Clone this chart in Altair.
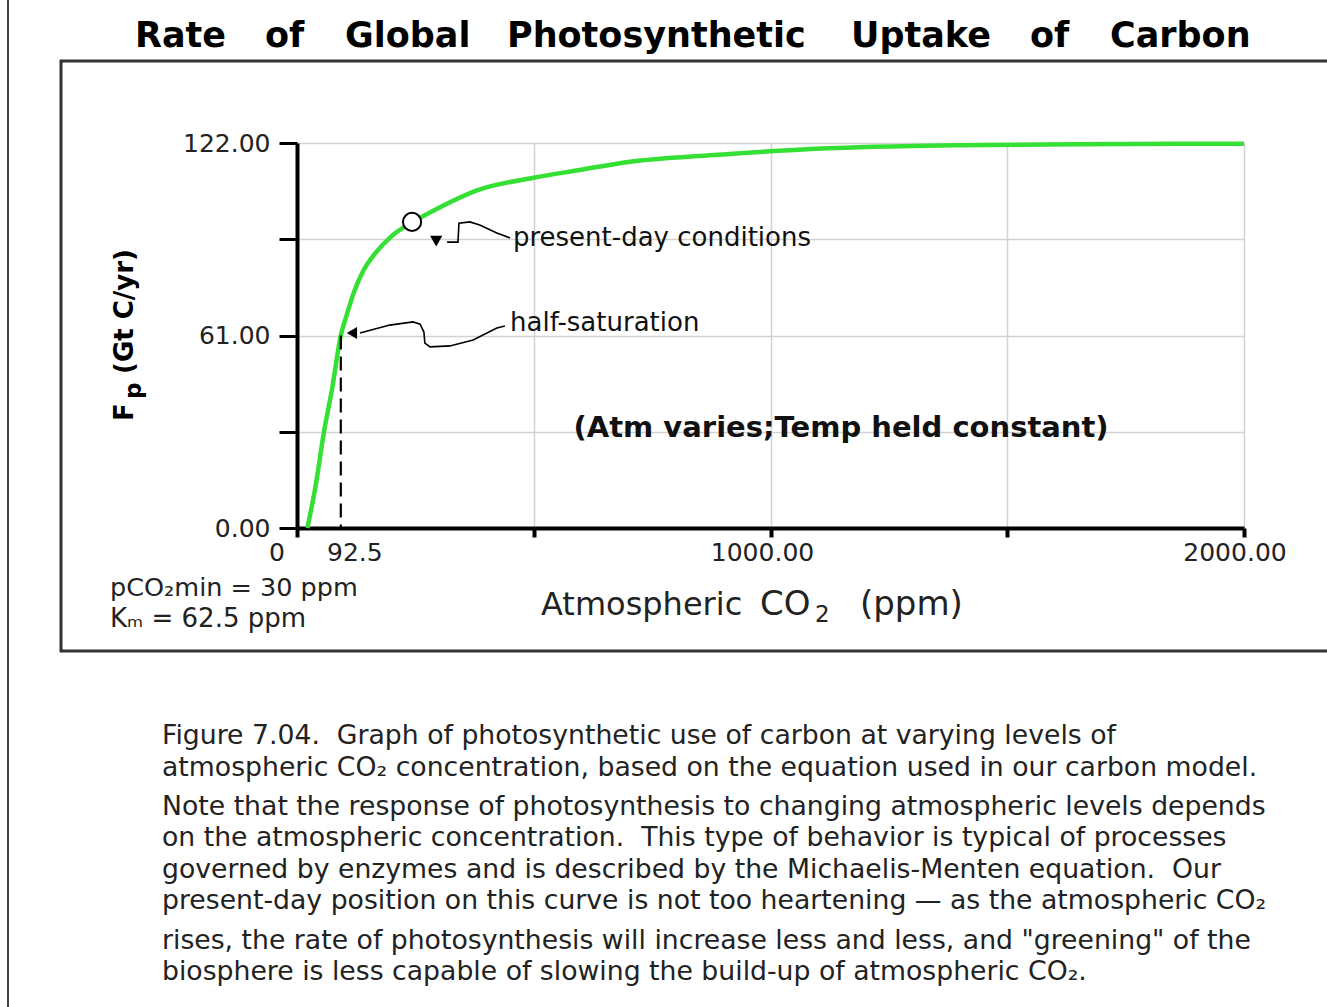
import altair as alt
import pandas as pd

# ---------------- data ----------------
co2_ppm = [22, 40, 57, 74, 92.5, 105, 121, 140, 165, 200, 245, 300, 380, 500,
           600, 700, 880, 1050, 1200, 1400, 1650, 2000]
fp_gtc = [0, 14, 30.5, 44, 61, 67.5, 75, 81.5, 87, 92.5, 97, 101.5, 107, 111,
          113.5, 116, 118.2, 119.8, 120.7, 121.3, 121.6, 121.8]

present_day = {"co2": 243, "fp": 97}
half_sat = {"co2": 92.5, "fp": 61}

present_conn_x = [317, 340, 342, 365, 386, 422, 450]
present_conn_y = [90.6, 90.6, 96.6, 97.0, 96.0, 93.5, 91.9]
present_arrow = {"co2": 294, "fp": 90.9}
present_label = {"co2": 456, "fp": 91.9, "text": "present-day conditions"}

half_conn_x = [133, 196, 245, 260, 268, 270, 281, 323, 372, 422, 439]
half_conn_y = [61.8, 64.3, 65.3, 64.6, 62.1, 58.6, 57.4, 57.7, 59.6, 63.4, 64.0]
half_arrow = {"co2": 116, "fp": 61.8}
half_label = {"co2": 450, "fp": 65, "text": "half-saturation"}

note_label = {"co2": 1149, "fp": 31.7, "text": "(Atm varies;Temp held constant)"}

y_ticks = [0, 30.5, 61, 91.5, 122]
x_ticks = [0, 500, 1000, 1500, 2000]
x_label_values = [0, 92.5, 1000, 2000]
x_label_texts = ["0", "92.5", "1000.00", "2000.00"]

title_words = ["Rate", "of", "Global", "Photosynthetic", "Uptake", "of", "Carbon"]
caption_lines = [
    "Figure 7.04.\u00a0 Graph of photosynthetic use of carbon at varying levels of",
    "atmospheric CO\u2082 concentration, based on the equation used in our carbon model.",
    "Note that the response of photosynthesis to changing atmospheric levels depends",
    "on the atmospheric concentration.\u00a0 This type of behavior is typical of processes",
    "governed by enzymes and is described by the Michaelis-Menten equation.\u00a0 Our",
    "present-day position on this curve is not too heartening \u2014 as the atmospheric CO\u2082",
    "rises, the rate of photosynthesis will increase less and less, and \"greening\" of the",
    "biosphere is less capable of slowing the build-up of atmospheric CO\u2082.",
]

# ---------------- layout (pixels) ----------------
W, H = 947, 385
PL, PT = 297, 143
PR = 1327 - PL - W
PB = 1007 - PT - H
title_x = [135, 265, 345, 507, 851, 1030, 1110]
caption_y = [736, 768, 807, 838, 870, 901, 941, 972]
x_label_dx = [-20, 14, -8, -9]

FONT = "DejaVu Sans"
XS = alt.Scale(domain=[0, 2000], nice=False, zero=False)
YS = alt.Scale(domain=[0, 122], nice=False, zero=True)

one = pd.DataFrame({"k": [0]})

Y_AXIS = alt.Axis(
    values=y_ticks, title=None,
    labelExpr="datum.value == 30.5 || datum.value == 91.5 ? '' : format(datum.value, '.2f')",
    tickSize=18, tickWidth=3, tickColor="black", domainColor="black",
    domainWidth=4, grid=True, gridColor="#d2d2d2", gridWidth=1.5,
    labelFont=FONT, labelFontSize=25, labelColor="#222222", labelPadding=9,
)
X_AXIS = alt.Axis(
    values=x_ticks, title=None, labels=False, tickSize=9, tickWidth=4,
    tickColor="black", domainColor="black", domainWidth=4, grid=True,
    gridColor="#d2d2d2", gridWidth=1.5,
)


def px(x):
    return x - PL


def py(y):
    return y - PT


def text_at(txt, x, y, size, bold=False, align="left", baseline="middle",
            angle=0, color="#111111"):
    return alt.Chart(one).mark_text(
        text=txt, align=align, baseline=baseline, font=FONT, fontSize=size,
        fontWeight="bold" if bold else "normal", angle=angle, color=color
    ).encode(x=alt.value(px(x)), y=alt.value(py(y)))


def hrule(x1, x2, y, w, color):
    return alt.Chart(one).mark_rule(strokeWidth=w, color=color).encode(
        x=alt.value(px(x1)), x2=alt.value(px(x2)), y=alt.value(py(y)))


def vrule(x, y1, y2, w, color):
    return alt.Chart(one).mark_rule(strokeWidth=w, color=color).encode(
        x=alt.value(px(x)), y=alt.value(py(y1)), y2=alt.value(py(y2)))


def xenc():
    return alt.X("co2:Q", scale=XS, axis=X_AXIS)


def yenc():
    return alt.Y("fp:Q", scale=YS, axis=Y_AXIS)


curve_df = pd.DataFrame({"co2": co2_ppm, "fp": fp_gtc})

curve = alt.Chart(curve_df).mark_line(
    color="#33e033", strokeWidth=4.5, interpolate="monotone"
).encode(x=xenc(), y=yenc())

dash = alt.Chart(pd.DataFrame([half_sat])).mark_rule(
    color="black", strokeWidth=2.2, strokeDash=[14, 7]
).encode(x=xenc(), y=yenc(), y2=alt.datum(0))

circle = alt.Chart(pd.DataFrame([present_day])).mark_point(
    shape="circle", filled=True, fill="white", stroke="black",
    strokeWidth=2, size=330, opacity=1
).encode(x=xenc(), y=yenc())

pconn = alt.Chart(pd.DataFrame({"co2": present_conn_x, "fp": present_conn_y,
                                "o": list(range(len(present_conn_x)))})).mark_line(
    color="black", strokeWidth=1.6
).encode(x=xenc(), y=yenc(), order="o:Q")

hconn = alt.Chart(pd.DataFrame({"co2": half_conn_x, "fp": half_conn_y,
                                "o": list(range(len(half_conn_x)))})).mark_line(
    color="black", strokeWidth=1.6
).encode(x=xenc(), y=yenc(), order="o:Q")

parrow = alt.Chart(pd.DataFrame([present_arrow])).mark_point(
    shape="triangle-down", filled=True, color="black", size=150, opacity=1
).encode(x=xenc(), y=yenc())

harrow = alt.Chart(pd.DataFrame([half_arrow])).mark_point(
    shape="triangle-left", filled=True, color="black", size=140, opacity=1
).encode(x=xenc(), y=yenc())


def data_label(d, size, bold=False, align="left"):
    return alt.Chart(pd.DataFrame([d])).mark_text(
        align=align, baseline="middle", font=FONT, fontSize=size,
        fontWeight="bold" if bold else "normal", color="#111111"
    ).encode(x=xenc(), y=yenc(), text="text:N")


plabel = data_label(present_label, 26)
hlabel = data_label(half_label, 26)
nlabel = data_label(note_label, 29, bold=True, align="center")

xlabels = []
for v, t, dx in zip(x_label_values, x_label_texts, x_label_dx):
    xlabels.append(
        alt.Chart(pd.DataFrame({"co2": [v], "text": [t]})).mark_text(
            align="center", baseline="middle", font=FONT, fontSize=25,
            color="#222222", dx=dx
        ).encode(x=xenc(), y=alt.value(py(553)), text="text:N")
    )

layers = [curve, dash, pconn, hconn, circle, parrow, harrow, plabel, hlabel, nlabel]
layers += xlabels

# frame lines
layers += [
    vrule(8, 0, 1007, 2, "#444444"),
    hrule(60, 1327, 61, 3, "#333333"),
    hrule(60, 1327, 651, 3, "#333333"),
    vrule(61, 60, 652, 3, "#333333"),
]

# title words
for w, x in zip(title_words, title_x):
    layers.append(text_at(w, x, 36, 35, bold=True, color="#000000"))

# y axis title: F_p (Gt C/yr)
layers += [
    text_at("F", 133, 421, 26, bold=True, baseline="alphabetic", angle=270, color="#000000"),
    text_at("p", 141, 399, 23, bold=True, baseline="alphabetic", angle=270, color="#000000"),
    text_at("(Gt C/yr)", 133, 374, 26, bold=True, baseline="alphabetic", angle=270, color="#000000"),
]

# x axis title: Atmospheric CO2 (ppm)
layers += [
    text_at("Atmospheric", 541, 605, 32, color="#222222"),
    text_at("CO", 760, 605, 34, color="#222222"),
    text_at("2", 815, 615, 23, color="#222222"),
    text_at("(ppm)", 860, 605, 34, color="#222222"),
]

# lower-left notes
layers += [
    text_at("pCO\u2082min = 30 ppm", 110, 588, 25.5, color="#222222"),
    text_at("K\u2098 = 62.5 ppm", 110, 619, 26, color="#222222"),
]

# caption
for line, y in zip(caption_lines, caption_y):
    layers.append(text_at(line, 162, y, 26.7, color="#222222"))

chart = alt.layer(*layers).properties(
    width=W, height=H,
    padding={"left": PL, "top": PT, "right": PR, "bottom": PB},
    autosize=alt.AutoSizeParams(type="none"),
    background="white",
).configure_view(strokeWidth=0)

chart.save("out.html", embed_options={"renderer": "svg", "actions": False})
